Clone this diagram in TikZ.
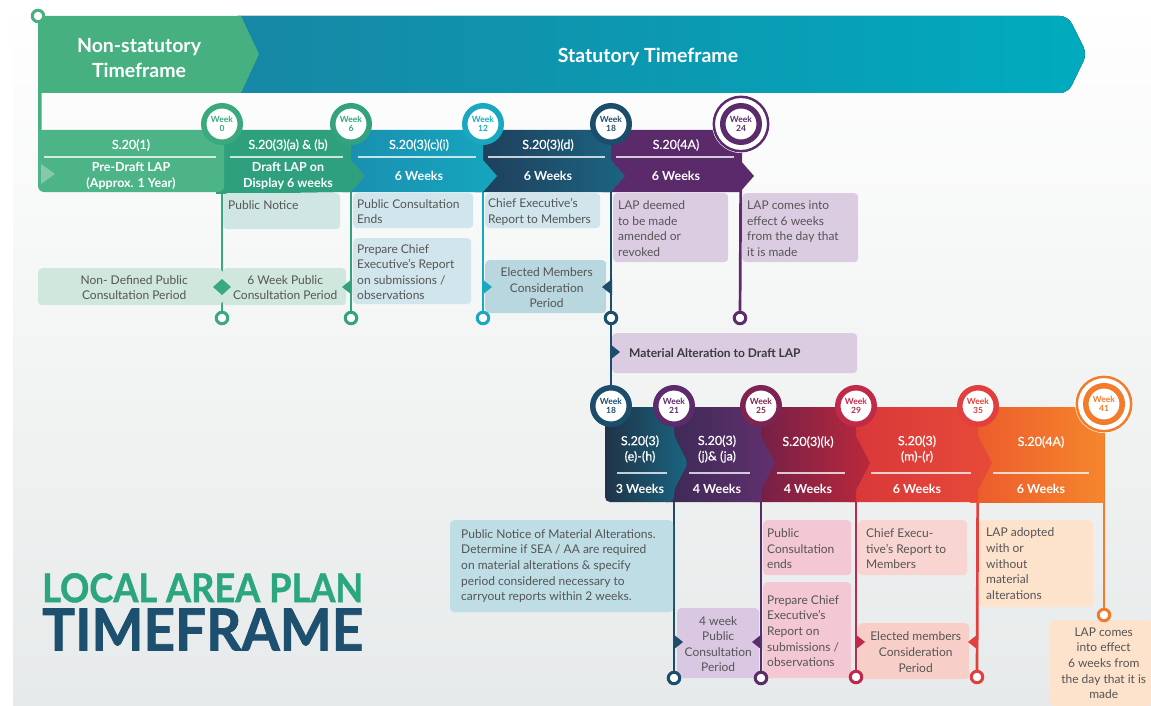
\documentclass[tikz,border=0pt]{standalone}
\usepackage{fontspec}
\setmainfont{Lato}
\newfontfamily\heavyfont{Lato}[FakeBold=1.2]
\newfontfamily\medfont{Lato}[FakeBold=0.5]
\usetikzlibrary{calc}
\pgfdeclarelayer{back}
\pgfdeclarelayer{lines}
\pgfdeclarelayer{boxes}
\pgfsetlayers{back,lines,boxes,main}
\definecolor{bgG}{HTML}{E7EAEA}
\definecolor{cNon}{HTML}{46B080}
\definecolor{cStatL}{HTML}{1787A5}
\definecolor{cStatR}{HTML}{00ABBE}
\definecolor{cA}{HTML}{4DB488}
\definecolor{cB}{HTML}{2FA07E}
\definecolor{cCL}{HTML}{1A8FB0}
\definecolor{cCR}{HTML}{16A6BE}
\definecolor{cDL}{HTML}{1F3E5A}
\definecolor{cDR}{HTML}{1B6482}
\definecolor{cE}{HTML}{5A2A6B}
\definecolor{wGreen}{HTML}{3AAA7E}
\definecolor{wGreenB}{HTML}{34A27E}
\definecolor{wTeal}{HTML}{1AA8C0}
\definecolor{wDark}{HTML}{1C4E6C}
\definecolor{wPurple}{HTML}{5B2B6B}
\definecolor{wMag}{HTML}{7E2452}
\definecolor{wCrim}{HTML}{C0294A}
\definecolor{wRed}{HTML}{E2403E}
\definecolor{wOrange}{HTML}{F27B2C}
\definecolor{s1L}{HTML}{1F3347}
\definecolor{s1R}{HTML}{1A6582}
\definecolor{s2L}{HTML}{3B2A55}
\definecolor{s2R}{HTML}{62306F}
\definecolor{s3L}{HTML}{701F48}
\definecolor{s3R}{HTML}{BA283B}
\definecolor{s4L}{HTML}{D8373A}
\definecolor{s4R}{HTML}{E84A38}
\definecolor{s5L}{HTML}{EC5A2C}
\definecolor{s5R}{HTML}{F5862C}
\definecolor{nGreen}{HTML}{CFE7DD}
\definecolor{nTeal}{HTML}{CFE6E3}
\definecolor{nBlue}{HTML}{D0E6EC}
\definecolor{nBlueB}{HTML}{B9D7DF}
\definecolor{nLav}{HTML}{DCCCE2}
\definecolor{nLavB}{HTML}{DAC7E2}
\definecolor{nBlueC}{HTML}{BEDDE5}
\definecolor{nPink}{HTML}{F4C7D5}
\definecolor{nSalmon}{HTML}{F9D5D1}
\definecolor{nSalmonB}{HTML}{F8CEC8}
\definecolor{nPeach}{HTML}{FDE2CC}
\definecolor{txt}{HTML}{555555}
\definecolor{txtD}{HTML}{3A3A3A}
\definecolor{titG}{HTML}{2BA67E}
\definecolor{titB}{HTML}{1D4F6E}
\begin{document}
\begin{tikzpicture}[x=1pt,y=-1pt,
  wk/.style={circle, draw=#1, line width=5.5pt, fill=white, minimum size=36.5pt, inner sep=0pt, text=#1, font=\bfseries\fontsize{8.5}{9.5}\selectfont, align=center},
  endc/.style={circle, draw=#1, line width=3pt, fill=white, minimum size=11.5pt, inner sep=0pt},
  tl/.style={draw=#1, line width=2.7pt},
  nbox/.style={fill=#1, rounded corners=4pt, inner sep=0pt, anchor=north west, draw=none},
  ntxt/.style={text=txt, font=\fontsize{12}{15.6}\selectfont, inner sep=0pt, align=left, anchor=west},
  nctr/.style={text=txt, font=\fontsize{12}{15.6}\selectfont, inner sep=0pt, align=center},
  segt/.style={text=white, font=\medfont\fontsize{12.5}{15.5}\selectfont, align=center, inner sep=0pt},
  segb/.style={text=white, font=\bfseries\fontsize{12.5}{16}\selectfont, align=center, inner sep=0pt},
  sepl/.style={draw=white, draw opacity=0.75, line width=1.4pt},
  bantxt/.style={text=white, font=\bfseries\fontsize{19.5}{24.5}\selectfont, align=center, inner sep=0pt},
]
\useasboundingbox (0,0) rectangle (1151,706);

% ---------- background & banner ----------
\begin{pgfonlayer}{back}
\fill[white] (0,0) rectangle (1151,706);
\shade[top color=white, bottom color=bgG] (13,0) rectangle (1151,706);
\fill[left color=cStatL, right color=cStatR, rounded corners=8pt] (230,16) -- (1068,16) -- (1087,54) -- (1068,93) -- (230,93) -- cycle;
\fill[cNon] (38,16) -- (241,16) -- (259,54) -- (241,93) -- (41.5,93) -- (41.5,134) -- (38,134) -- cycle;
\node[bantxt] (nonstat) at (139,58) {Non-statutory\\Timeframe};
\node[bantxt] (stat) at (648,57) {Statutory Timeframe};
\node[anchor=north west, inner sep=0pt, align=left] (title) at (42,573)
  {\textcolor{titG}{\resizebox{321pt}{29pt}{\heavyfont\bfseries LOCAL AREA PLAN}}\\[5pt]
   \textcolor{titB}{\resizebox{321pt}{42pt}{\heavyfont\bfseries TIMEFRAME}}};
\end{pgfonlayer}

% ---------- week circles and end circles ----------
\node[endc=cNon] (tc) at (38,16) {};
\node[wk=wGreen] (w0) at (222,124) {Week\\0};
\node[wk=wGreenB] (w6) at (351,124) {Week\\6};
\node[wk=wTeal] (w12) at (483,124) {Week\\12};
\node[wk=wDark] (w18) at (611,124) {Week\\18};
\node[wk=wPurple] (w24) at (741,124) {Week\\24};
\node[endc=wGreen] (e0) at (222,318) {};
\node[endc=wGreenB] (e6) at (351,318) {};
\node[endc=wTeal] (e12) at (483,318) {};
\node[endc=wDark] (e18) at (611,318) {};
\node[endc=wPurple] (e24) at (740,318) {};

\node[wk=wDark] (v18) at (611,406) {Week\\18};
\node[wk=wPurple] (v21) at (674,406) {Week\\21};
\node[wk=wMag] (v25) at (761,406) {Week\\25};
\node[wk=wCrim] (v29) at (856,406) {Week\\29};
\node[wk=wRed] (v35) at (978,406) {Week\\35};
\node[wk=wOrange] (v41) at (1104,404) {Week\\41};
\node[endc=wDark] (f21) at (674,678) {};
\node[endc=wPurple] (f25) at (761,678) {};
\node[endc=wCrim] (f29) at (856,677) {};
\node[endc=wRed] (f35) at (977,677) {};
\node[endc=wOrange] (f41) at (1104,615) {};

% ---------- connectors ----------
\begin{pgfonlayer}{lines}
\draw[tl=wGreen] (w0) -- (e0);
\draw[tl=wGreenB] (w6) -- (e6);
\draw[tl=wTeal] (w12) -- (e12);
\draw[tl=wDark] (w18) -- (e18);
\draw[tl=wDark] (e18) -- (v18);
\draw[tl=wPurple] (w24) -- (e24);
\draw[tl=wDark] (v21) -- (f21);
\draw[tl=wPurple] (v25) -- (f25);
\draw[tl=wCrim] (v29) -- (f29);
\draw[tl=wRed] (v35) -- (f35);
\draw[tl=wOrange] (v41) -- (f41);
\end{pgfonlayer}

\begin{pgfonlayer}{boxes}
% ---------- top row segments ----------
\fill[cE] (603,130) -- (740,130) -- (740,160) -- (754,176) -- (740,192) -- (603,192) -- cycle;
\path[left color=cDL, right color=cDR] (475,130) -- (611,130) -- (611,160) -- (625,176) -- (611,192) -- (475,192) -- cycle;
\path[left color=cCL, right color=cCR] (343,130) -- (483,130) -- (483,160) -- (497,176) -- (483,192) -- (343,192) -- cycle;
\fill[cB] (216,130) -- (351,130) -- (351,160) -- (365,176) -- (351,192) -- (216,194) -- cycle;
\fill[cA, rounded corners=6pt] (38,130) rectangle (224,192);
\fill[cA] (38,130) rectangle (48,140);
\fill[white, opacity=0.3] (41,164) -- (55,174) -- (41,184) -- cycle;

\node[segt] (t1a) at (131,145) {S.20(1)};
\draw[sepl] (44,157) -- (216,157);
\node[segb] (t1b) at (131,176) {Pre-Draft LAP\\(Approx. 1 Year)};
\node[segt] (t2a) at (288,145) {S.20(3)(a) \& (b)};
\draw[sepl] (230,157) -- (343,157);
\node[segb] (t2b) at (288,176) {Draft LAP on\\Display 6 weeks};
\node[segt] (t3a) at (419,145) {S.20(3)(c)(i)};
\draw[sepl] (358,157) -- (476,157);
\node[segb] (t3b) at (419,176) {6 Weeks};
\node[segt] (t4a) at (548,145) {S.20(3)(d)};
\draw[sepl] (488,157) -- (605,157);
\node[segb] (t4b) at (548,176) {6 Weeks};
\node[segt] (t5a) at (676,145) {S.20(4A)};
\draw[sepl] (616,157) -- (734,157);
\node[segb] (t5b) at (676,176) {6 Weeks};

% ---------- bottom row segments ----------
\path[left color=s5L, right color=s5R] (970,407) -- (1104,407) -- (1104,502) -- (970,502) -- cycle;
\path[left color=s4L, right color=s4R] (848,407) -- (978,407) -- (978,436) -- (992,463) -- (978,490) -- (978,502) -- (848,502) -- cycle;
\path[left color=s3L, right color=s3R] (753,407) -- (856,407) -- (856,436) -- (870,463) -- (856,490) -- (856,502) -- (753,502) -- cycle;
\path[left color=s2L, right color=s2R] (666,407) -- (761,407) -- (761,436) -- (775,463) -- (761,490) -- (761,502) -- (666,502) -- cycle;
\path[left color=s1L, right color=s1R, rounded corners=5pt] (605,407) -- (674,407) -- (674,436) -- (688,463) -- (674,490) -- (674,502) -- (605,502) -- cycle;

\node[segt] (b1a) at (640,449) {S.20(3)\\(e)-(h)};
\draw[sepl] (617,473) -- (667,473);
\node[segb] (b1b) at (640,489) {3 Weeks};
\node[segt] (b2a) at (717,449) {S.20(3)\\(j)\& (ja)};
\draw[sepl] (689,473) -- (750,473);
\node[segb] (b2b) at (717,489) {4 Weeks};
\node[segt] (b3a) at (808,442) {S.20(3)(k)};
\draw[sepl] (777,473) -- (845,473);
\node[segb] (b3b) at (808,489) {4 Weeks};
\node[segt] (b4a) at (917,449) {S.20(3)\\(m)-(r)};
\draw[sepl] (871,473) -- (971,473);
\node[segb] (b4b) at (917,489) {6 Weeks};
\node[segt] (b5a) at (1041,442) {S.20(4A)};
\draw[sepl] (993,473) -- (1089,473);
\node[segb] (b5b) at (1041,489) {6 Weeks};

% double rings
\fill[white] (w24.center) circle (29);
\draw[wPurple, line width=2.5pt] (w24.center) circle (27.2);
\fill[white] (v41.center) circle (29);
\draw[wOrange, line width=2.5pt] (v41.center) circle (27.2);

% ---------- top notes ----------
\node[nbox=nTeal, minimum width=117pt, minimum height=36pt] (pn) at (223,193) {};
\node[ntxt] at ($(pn.west)+(5,-6)$) {Public Notice};
\node[nbox=nBlue, minimum width=120pt, minimum height=35pt] (pce) at (353,193) {};
\node[ntxt] at ($(pce.west)+(4,1)$) {Public Consultation\\Ends};
\node[nbox=nBlue, minimum width=118pt, minimum height=66pt] (pcr) at (353,238) {};
\node[ntxt] at ($(pcr.west)+(4,1)$) {Prepare Chief\\Executive's Report\\on submissions /\\observations};
\node[nbox=nBlue, minimum width=115pt, minimum height=35pt] (cer) at (485,193) {};
\node[ntxt] at ($(cer.west)+(3,1)$) {Chief Executive's\\Report to Members};
\node[nbox=nBlueB, minimum width=121pt, minimum height=53pt] (emc) at (485,260) {};
\node[nctr] at ($(emc.center)+(1,1)$) {Elected Members\\Consideration\\Period};
\node[nbox=nLav, minimum width=115pt, minimum height=69pt] (ldm) at (613,193) {};
\node[ntxt] at ($(ldm.west)+(5,1)$) {LAP deemed\\to be made\\amended or\\revoked};
\node[nbox=nLav, minimum width=116pt, minimum height=69pt] (lce) at (742,193) {};
\node[ntxt] at ($(lce.west)+(5,1)$) {LAP comes into\\effect 6 weeks\\from the day that\\it is made};
\node[nbox=nGreen, minimum width=184pt, minimum height=37pt] (ndp) at (38,268) {};
\node[nctr] at ($(ndp.center)+(4,1)$) {Non- Defined Public\\Consultation Period};
\node[nbox=nGreen, minimum width=124pt, minimum height=37pt] (swp) at (222,268) {};
\node[nctr] at ($(swp.center)+(1,1)$) {6 Week Public\\Consultation Period};
\node[nbox=nLav, minimum width=245pt, minimum height=40pt] (mat) at (612,333) {};
\node[ntxt, text=txtD, font=\bfseries\fontsize{12}{15}\selectfont] at ($(mat.west)+(17,0)$) {Material Alteration to Draft LAP};

% ---------- bottom notes ----------
\node[nbox=nBlueC, minimum width=223pt, minimum height=92pt] (pnm) at (450,520) {};
\node[ntxt] at ($(pnm.west)+(11,0)$) {Public Notice of Material Alterations.\\Determine if SEA / AA are required\\on material alterations \& specify\\period considered necessary to\\carryout reports within 2 weeks.};
\node[nbox=nLavB, minimum width=82pt, minimum height=70pt] (fwp) at (677,608) {};
\node[nctr] at ($(fwp.center)+(0,1)$) {4 week\\Public\\Consultation\\Period};
\node[nbox=nPink, minimum width=88pt, minimum height=55pt] (pcb) at (763,520) {};
\node[ntxt] at ($(pcb.west)+(4,1)$) {Public\\Consultation\\ends};
\node[nbox=nPink, minimum width=88pt, minimum height=96pt] (prb) at (763,582) {};
\node[ntxt] at ($(prb.west)+(4,1)$) {Prepare Chief\\Executive's\\Report on\\submissions /\\observations};
\node[nbox=nSalmon, minimum width=109pt, minimum height=55pt] (ceb) at (858,520) {};
\node[ntxt] at ($(ceb.west)+(8,1)$) {Chief Execu-\\tive's Report to\\Members};
\node[nbox=nSalmonB, minimum width=111pt, minimum height=56pt] (emb) at (858,623) {};
\node[nctr] at ($(emb.center)+(2,1)$) {Elected members\\Consideration\\Period};
\node[nbox=nPeach, minimum width=114pt, minimum height=87pt] (lad) at (979,520) {};
\node[ntxt] at ($(lad.west)+(7,0)$) {LAP adopted\\with or\\without\\material\\alterations};
\node[nbox=nPeach, minimum width=101pt, minimum height=86pt] (lcb) at (1050,620) {};
\node[nctr] at ($(lcb.center)+(3,0)$) {LAP comes\\into effect\\6 weeks from\\the day that it is\\made};

% ---------- markers ----------
\fill[wGreen] (213,287) -- (222,279) -- (231,287) -- (222,295) -- cycle;
\fill[wGreenB] (352,279) -- (342,287) -- (352,295) -- cycle;
\fill[wTeal] (482,279) -- (492,287) -- (482,295) -- cycle;
\fill[wDark] (612,279) -- (602,287) -- (612,295) -- cycle;
\fill[wDark] (610,344) -- (620,352) -- (610,360) -- cycle;
\fill[wDark] (673,634) -- (683,642) -- (673,650) -- cycle;
\fill[wPurple] (762,634) -- (752,642) -- (762,650) -- cycle;
\fill[wCrim] (855,634) -- (865,642) -- (855,650) -- cycle;
\fill[wRed] (978,634) -- (968,642) -- (978,650) -- cycle;
\end{pgfonlayer}
\end{tikzpicture}
\end{document}
